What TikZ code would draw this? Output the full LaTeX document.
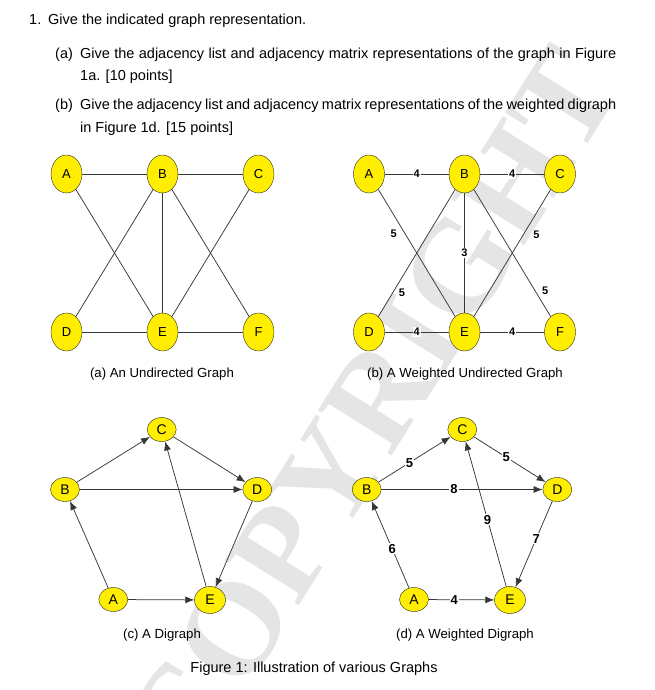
\documentclass[tikz,border=0pt]{standalone}
\usepackage{xcolor}
\usepackage{fontspec}
\setmainfont{Liberation Sans}
\newfontfamily\wmfont{Liberation Serif}
\usetikzlibrary{arrows.meta, positioning, shapes.geometric}

\definecolor{vyellow}{RGB}{255,238,0}
\definecolor{lgray}{RGB}{55,55,55}

\begin{document}
\begin{tikzpicture}[
    x=1pt, y=-1pt,
    vtx/.style={draw=black!85, fill=vyellow, ellipse, inner sep=0pt,
                minimum width=31pt, minimum height=38pt,
                font=\fontsize{13}{13}\selectfont},
    dvtx/.style={vtx, minimum width=29pt, minimum height=24pt,
                 font=\fontsize{14}{14}\selectfont},
    edge/.style={draw=lgray, line width=0.75pt},
    arc/.style={edge, -{Latex[length=9pt, width=7pt]}},
    wt/.style={font=\fontsize{11}{11}\selectfont\bfseries, inner sep=1pt},
    wtbox/.style={wt, fill=white},
    dwt/.style={wtbox, font=\fontsize{13}{13}\selectfont\bfseries},
    subcap/.style={font=\fontsize{13.2}{13.2}\selectfont},
    txt/.style={anchor=base west, inner sep=0pt,
                font=\fontsize{14.5}{14.5}\selectfont}
  ]
    \useasboundingbox (0,0) rectangle (655,690);

    % watermark
    \node[rotate=58, text=black!10, font=\fontsize{132}{132}\selectfont\wmfont\bfseries]
      (wm) at (372,408) {COPYRIGHT};

    % question text
    \node[txt] (q1)  at (29,25) {1.};
    \node[txt] (q1t) at (48,25) {Give the indicated graph representation.};
    \node[txt] (qa)  at (55,59) {(a)};
    \node[txt] (qat) at (80,59) {\makebox[536pt][s]{Give the adjacency list and adjacency matrix representations of the graph in Figure}};
    \node[txt] (qa2) at (80,81) {1a. [10 points]};
    \node[txt] (qb)  at (55,109.5) {(b)};
    \node[txt] (qbt) at (80,109.5) {\makebox[536pt][s]{Give the adjacency list and adjacency matrix representations of the weighted digraph}};
    \node[txt] (qb2) at (80,132) {in Figure 1d. [15 points]};

    % (a) undirected graph
    \node[vtx] (a-A) at (66.5,174) {A};
    \node[vtx] (a-B) at (162.5,174) {B};
    \node[vtx] (a-C) at (258.5,174) {C};
    \node[vtx] (a-D) at (66.5,332) {D};
    \node[vtx] (a-E) at (162.5,332) {E};
    \node[vtx] (a-F) at (258.5,332) {F};
    \foreach \u/\v in {A/B, B/C, D/E, E/F, A/E, B/D, B/E, B/F, C/E}
      \draw[edge] (a-\u) -- (a-\v);
    \node[subcap] (capa) at (162,374) {(a) An Undirected Graph};

    % (b) weighted undirected graph
    \node[vtx] (b-A) at (369,174) {A};
    \node[vtx] (b-B) at (464.5,174) {B};
    \node[vtx] (b-C) at (560,174) {C};
    \node[vtx] (b-D) at (369,332) {D};
    \node[vtx] (b-E) at (464.5,332) {E};
    \node[vtx] (b-F) at (560,332) {F};
    \draw[edge] (b-A) -- node[wtbox] {4} (b-B);
    \draw[edge] (b-B) -- node[wtbox] {4} (b-C);
    \draw[edge] (b-D) -- node[wtbox] {4} (b-E);
    \draw[edge] (b-E) -- node[wtbox] {4} (b-F);
    \draw[edge] (b-B) -- node[wtbox, pos=0.5] {3} (b-E);
    \draw[edge] (b-A) -- node[wt, pos=0.35, left=7pt] {5} (b-E);
    \draw[edge] (b-B) -- node[wt, pos=0.81, right=4.5pt] {5} (b-D);
    \draw[edge] (b-C) -- node[wt, pos=0.36, right=9pt] {5} (b-E);
    \draw[edge] (b-B) -- node[wt, pos=0.80, right=5.5pt] {5} (b-F);
    \node[subcap] (capb) at (465,374) {(b) A Weighted Undirected Graph};

    % (c) digraph
    \node[dvtx] (c-C) at (161.7,429.5) {C};
    \node[dvtx] (c-B) at (65,489.5) {B};
    \node[dvtx] (c-D) at (257.3,489.5) {D};
    \node[dvtx] (c-A) at (113.3,599.5) {A};
    \node[dvtx, minimum width=31pt, minimum height=27pt] (c-E) at (210,600) {E};
    \foreach \u/\v in {B/C, C/D, B/D, A/B, A/E, E/C, D/E}
      \draw[arc] (c-\u) -- (c-\v);
    \node[subcap] (capc) at (162,635) {(c) A Digraph};

    % (d) weighted digraph
    \node[dvtx] (d-C) at (462.3,429.5) {C};
    \node[dvtx] (d-B) at (366.7,489.5) {B};
    \node[dvtx] (d-D) at (557.3,489.5) {D};
    \node[dvtx] (d-A) at (414,599.5) {A};
    \node[dvtx, minimum width=31pt, minimum height=27pt] (d-E) at (510,600) {E};
    \draw[arc] (d-B) -- node[dwt, pos=0.43] {5} (d-C);
    \draw[arc] (d-C) -- node[dwt, pos=0.45] {5} (d-D);
    \draw[arc] (d-B) -- node[dwt, pos=0.45] {8} (d-D);
    \draw[arc] (d-E) -- node[dwt, pos=0.46] {9} (d-C);
    \draw[arc] (d-A) -- node[dwt, pos=0.45] {6} (d-B);
    \draw[arc] (d-D) -- node[dwt, pos=0.44] {7} (d-E);
    \draw[arc] (d-A) -- node[dwt, pos=0.39] {4} (d-E);
    \node[subcap] (capd) at (465,635) {(d) A Weighted Digraph};

    \node[subcap, font=\fontsize{14.5}{14.5}\selectfont] (fig) at (314,669)
      {Figure 1: Illustration of various Graphs};
  \end{tikzpicture}
\end{document}
